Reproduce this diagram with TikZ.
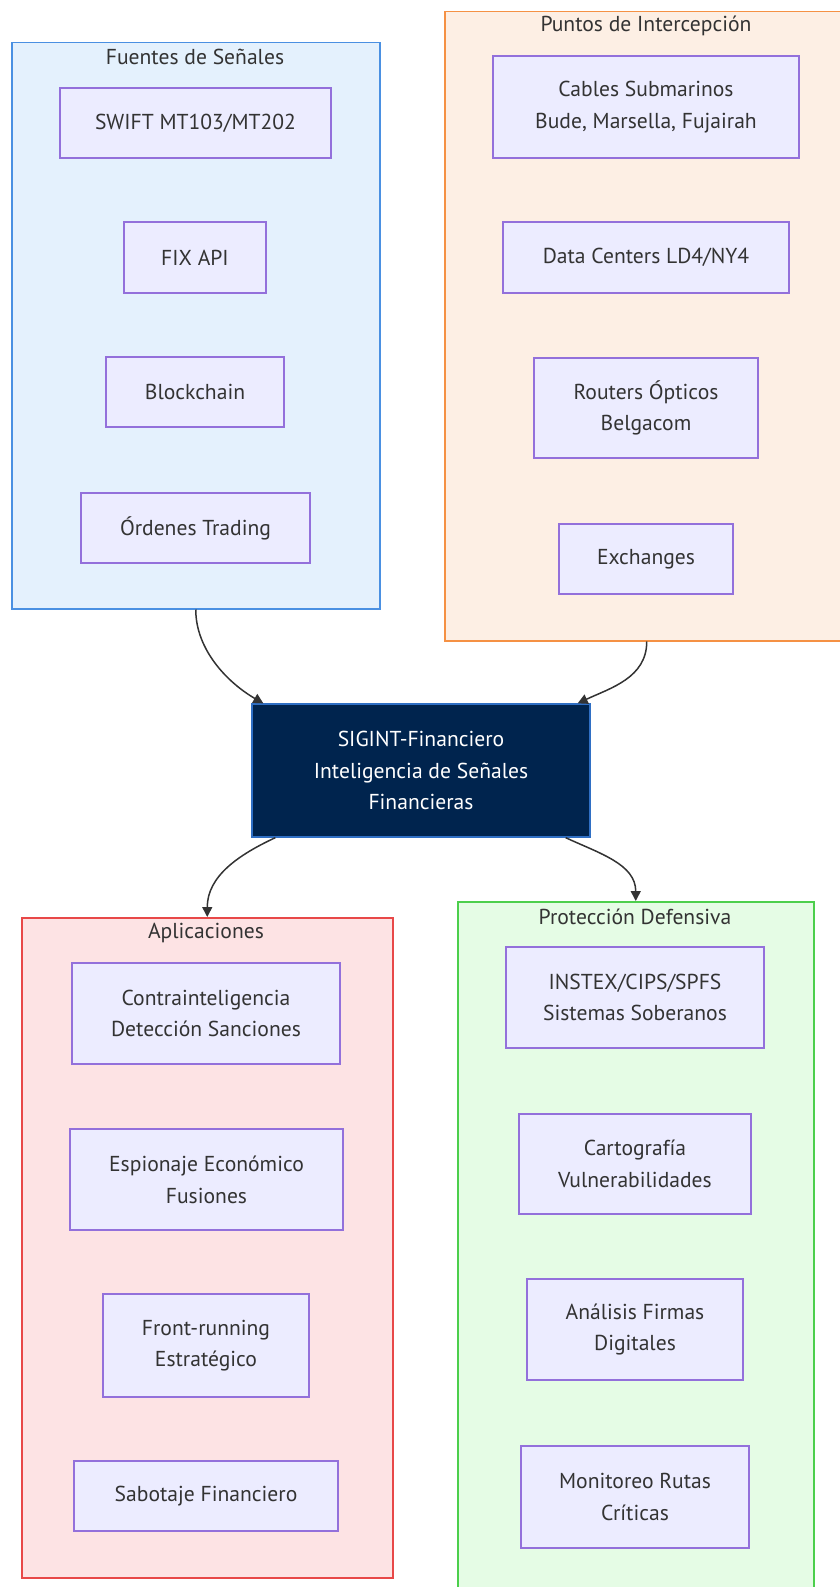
\documentclass[tikz,border=0pt]{standalone}
\usepackage{fontspec}
\setmainfont{PT Sans}
\usepackage{xcolor}
\usetikzlibrary{arrows.meta,positioning}
\definecolor{DarkText}{HTML}{333333}
\definecolor{BoxFill}{HTML}{ECECFF}
\definecolor{BoxLine}{HTML}{9370DB}
\definecolor{SrcFill}{HTML}{E4F1FD}
\definecolor{SrcLine}{HTML}{4A90E2}
\definecolor{TapFill}{HTML}{FDEFE4}
\definecolor{TapLine}{HTML}{F59144}
\definecolor{AppFill}{HTML}{FDE3E4}
\definecolor{AppLine}{HTML}{E84848}
\definecolor{DefFill}{HTML}{E5FCE5}
\definecolor{DefLine}{HTML}{4CCF4C}
\definecolor{CoreFill}{HTML}{00244E}
\definecolor{CoreLine}{HTML}{2F6FC4}
\newcommand{\boxfont}{\fontsize{21.6}{31.7}\selectfont}
\tikzset{
  cluster/.style={draw, line width=1.5pt, inner sep=0pt, anchor=north west},
  grouptitle/.style={text=DarkText, font=\boxfont, inner sep=0pt},
  item/.style={draw=BoxLine, fill=BoxFill, line width=1.3pt, text=DarkText,
    font=\boxfont, align=center, inner sep=0pt},
  core/.style={draw=CoreLine, fill=CoreFill, line width=1.3pt, text=white,
    font=\boxfont, align=center, inner sep=0pt},
  link/.style={draw=DarkText, line width=1.5pt, -{Triangle[length=10pt,width=10pt]}}
}
\begin{document}
\begin{tikzpicture}[x=1pt, y=-1pt]
  \useasboundingbox (0,0) rectangle (840,1587);
  \clip (0,0) rectangle (840,1587);

  % groups
  \node[cluster, draw=SrcLine, fill=SrcFill, minimum width=368pt, minimum height=566pt] (fuentes) at (11,42) {};
  \node[cluster, draw=TapLine, fill=TapFill, minimum width=404pt, minimum height=629pt] (puntos) at (444,11) {};
  \node[cluster, draw=AppLine, fill=AppFill, minimum width=371pt, minimum height=660pt] (aplic) at (21,917) {};
  \node[cluster, draw=DefLine, fill=DefFill, minimum width=356pt, minimum height=700pt] (proteccion) at (457,901) {};

  \node[grouptitle] (fuentesT) at (195,57) {Fuentes de Señales};
  \node[grouptitle] (puntosT) at (646,26) {Puntos de Intercepción};
  \node[grouptitle] (aplicT) at (206,933) {Aplicaciones};
  \node[grouptitle] (proteccionT) at (635,917) {Protección Defensiva};

  % signal sources
  \node[item, minimum width=271pt, minimum height=70pt] (swift) at (195.5,123) {SWIFT MT103/MT202};
  \node[item, minimum width=142pt, minimum height=71pt] (fix) at (195,257.5) {FIX API};
  \node[item, minimum width=178pt, minimum height=70pt] (blockchain) at (195,392) {Blockchain};
  \node[item, minimum width=229pt, minimum height=70pt] (ordenes) at (195.5,528) {Órdenes Trading};

  % interception points
  \node[item, minimum width=306pt, minimum height=102pt] (cables) at (646,107) {Cables Submarinos\\Bude, Marsella, Fujairah};
  \node[item, minimum width=286pt, minimum height=71pt] (datacenters) at (646,257.5) {Data Centers LD4/NY4};
  \node[item, minimum width=224pt, minimum height=100pt] (routers) at (646,408) {Routers Ópticos\\Belgacom};
  \node[item, minimum width=174pt, minimum height=70pt] (exchanges) at (646,559) {Exchanges};

  % centre
  \node[core, minimum width=338pt, minimum height=133pt] (sigint) at (421,770.5) {SIGINT-Financiero\\Inteligencia de Señales\\Financieras};

  % applications
  \node[item, minimum width=268pt, minimum height=101pt] (contra) at (206,1013.5) {Contrainteligencia\\Detección Sanciones};
  \node[item, minimum width=273pt, minimum height=101pt] (espionaje) at (206.5,1179.5) {Espionaje Económico\\Fusiones};
  \node[item, minimum width=206pt, minimum height=103pt] (frontrun) at (206,1345.5) {Front-running\\Estratégico};
  \node[item, minimum width=264pt, minimum height=70pt] (sabotaje) at (206,1496) {Sabotaje Financiero};

  % defensive protection
  \node[item, minimum width=258pt, minimum height=101pt] (instex) at (635,997.5) {INSTEX/CIPS/SPFS\\Sistemas Soberanos};
  \node[item, minimum width=232pt, minimum height=100pt] (cartografia) at (635,1164) {Cartografía\\Vulnerabilidades};
  \node[item, minimum width=216pt, minimum height=101pt] (analisis) at (635,1329.5) {Análisis Firmas\\Digitales};
  \node[item, minimum width=228pt, minimum height=102pt] (monitoreo) at (635,1497) {Monitoreo Rutas\\Críticas};

  % flows
  \draw[link] (fuentes.south) to[out=-90, in=150, looseness=0.9] ([xshift=12pt]sigint.north west);
  \draw[link] (puntos.south) to[out=-90, in=25] ([xshift=-13pt]sigint.north east);
  \draw[link] ([xshift=24pt]sigint.south west) to[out=205, in=90] (aplic.north);
  \draw[link] ([xshift=-25pt]sigint.south east) to[out=-25, in=90] (proteccion.north);
\end{tikzpicture}
\end{document}
